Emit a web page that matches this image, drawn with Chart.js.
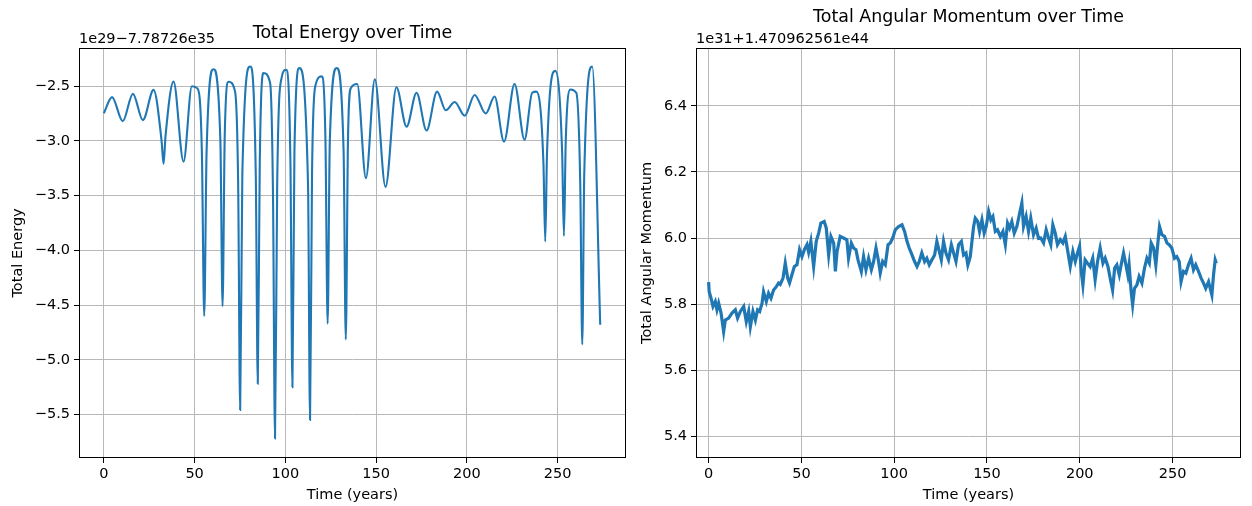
<!DOCTYPE html>
<html>
<head>
<meta charset="utf-8">
<script src="https://cdn.jsdelivr.net/npm/chart.js@4.4.1/dist/chart.umd.min.js"></script>
<style>
  body { margin: 0; background: #fff; }
  #wrap { position: relative; width: 1252px; height: 506px; }
  canvas { position: absolute; top: 0; }
</style>
</head>
<body>
<div id="wrap">
  <canvas id="energyChart" width="640" height="506" style="left:0"></canvas>
  <canvas id="momentumChart" width="620" height="506" style="left:632px"></canvas>
</div>
<script>
// ---- data ----
var xTicks = [0, 50, 100, 150, 200, 250];
var energyTicks = [-5.5, -5.0, -4.5, -4.0, -3.5, -3.0, -2.5];
var momentumTicks = [5.4, 5.6, 5.8, 6.0, 6.2, 6.4];

// total energy (offset 1e29 - 7.78726e35)
var energyTime = [0, 4.5, 10.4, 16.0, 21.5, 27.4, 31.8, 32.9, 34.0, 38.4, 43.9, 48.5, 51.5, 54.0, 55.3, 56.6,
  60.4, 64.2, 65.4, 66.6, 68.7, 72.3, 74.0, 75.1, 76.3, 80.6, 83.7, 84.8, 85.9, 87.9, 91.6, 93.2, 94.3, 95.5,
  98.0, 100.4, 102.8, 103.9, 105.0, 107.7, 112.5, 113.6, 114.7, 116.5, 120.0, 122.1, 123.3, 124.5, 128.3,
  132.1, 133.3, 134.5, 136.0, 139.6, 144.4, 149.3, 155.2, 161.2, 166.8, 172.3, 177.8, 183.6, 188.4, 193.3,
  198.8, 204.3, 210.4, 215.3, 220.5, 226.3, 231.8, 236.0, 238.3, 242.2, 243.2, 244.2, 248.7, 252.5, 253.5,
  254.5, 257.0, 260.3, 262.5, 263.6, 264.7, 269.1, 273.5];
var energyValues = [-2.747, -2.60, -2.82, -2.57, -2.81, -2.534, -3.0, -3.21, -2.95, -2.458, -3.19, -2.50, -2.52, -3.1, -4.60, -3.1,
  -2.345, -3.0, -4.51, -2.95, -2.46, -2.55, -3.4, -5.46, -3.3, -2.32, -3.3, -5.22, -3.2, -2.38, -2.47, -3.5, -5.72, -3.4,
  -2.42, -2.35, -3.2, -5.25, -3.1, -2.335, -3.4, -5.55, -3.3, -2.50, -2.41, -3.0, -4.67, -3.0, -2.335,
  -3.1, -4.815, -3.0, -2.52, -2.48, -3.34, -2.436, -3.42, -2.51, -2.87, -2.56, -2.905, -2.55, -2.72, -2.644,
  -2.77, -2.58, -2.75, -2.595, -3.007, -2.48, -2.99, -2.56, -2.55, -3.2, -3.92, -3.1, -2.36, -3.1, -3.87,
  -3.0, -2.53, -2.56, -3.4, -4.86, -3.3, -2.32, -4.68];

// total angular momentum (offset 1e31 + 1.470962561e44)
var momentumTime = [0, 0.3, 1.3, 2.35, 3.6, 4.5, 5.4, 6.7, 8.1, 9.0, 10.8, 12.6, 14.4, 15.6, 17.1, 18.9, 20.3, 21.6,
  22.5, 23.9, 25.2, 26.4, 27.5, 28.8, 29.6, 31.1, 32.3, 33.6, 35.0, 36.5, 37.7, 38.6, 40.1, 41.3, 42.6, 43.6, 44.9,
  46.2, 47.6, 49.0, 50.3, 51.6, 53.0, 53.9, 55.1, 56.6, 58.0, 59.3, 60.5, 62.3, 63.4, 64.7, 65.9, 67.4, 68.3, 69.2,
  70.9, 72.7, 74.5, 75.4, 76.9, 78.1, 79.4, 80.5, 82.3, 83.5, 84.8, 86.2, 87.7, 88.9, 90.2, 91.6, 92.5, 93.8, 95.2,
  96.7, 97.9, 99.2, 100.6, 102.4, 104.2, 105.6, 106.9, 108.1, 109.6, 111.0, 112.3, 113.5, 114.9, 116.4, 117.6,
  118.9, 120.3, 121.8, 123.0, 124.3, 125.4, 126.6, 127.9, 129.3, 130.8, 132.0, 133.3, 134.7, 136.2, 137.4, 138.7,
  139.7, 141.0, 142.8, 143.7, 145.0, 146.0, 147.3, 148.5, 149.6, 150.9, 152.1, 153.2, 154.5, 155.7, 157.2, 158.6,
  159.9, 161.1, 162.2, 163.4, 164.7, 166.1, 167.6, 168.8, 169.7, 171.1, 172.4, 173.6, 175.1, 176.5, 177.8, 179.0,
  180.5, 181.9, 183.2, 184.4, 185.5, 186.8, 188.0, 189.5, 190.9, 192.2, 193.4, 194.9, 196.3, 197.6, 198.8, 199.9,
  200.8, 201.7, 202.9, 204.2, 205.6, 207.0, 208.3, 209.6, 211.0, 212.5, 213.7, 215.2, 216.4, 217.7, 218.8, 220.0,
  221.3, 222.3, 223.6, 224.9, 225.9, 226.6, 227.7, 228.5, 229.5, 230.8, 232.0, 233.5, 234.9, 236.2, 237.5, 238.5,
  239.8, 241.0, 242.1, 243.0, 244.3, 245.7, 247.0, 248.2, 249.6, 251.1, 252.3, 253.6, 254.6, 255.9, 257.2, 258.6,
  260.0, 261.3, 262.5, 264.0, 265.4, 266.7, 267.9, 269.4, 270.3, 271.2, 272.1, 273.0, 273.6];
var momentumValues = [5.867, 5.838, 5.818, 5.793, 5.808, 5.783, 5.803, 5.773, 5.717, 5.752, 5.758, 5.773, 5.783, 5.758, 5.778, 5.793, 5.747, 5.778,
  5.732, 5.778, 5.752, 5.783, 5.778, 5.803, 5.838, 5.808, 5.833, 5.818, 5.843, 5.853, 5.864, 5.860, 5.879, 5.924, 5.879, 5.864, 5.889,
  5.914, 5.919, 5.965, 5.944, 5.965, 5.980, 5.957, 5.990, 5.914, 5.990, 6.015, 6.045, 6.050, 6.030, 5.949, 6.005, 5.985, 5.899, 5.959,
  6.005, 6.000, 5.995, 5.939, 5.985, 5.970, 5.965, 5.934, 5.899, 5.944, 5.904, 5.939, 5.904, 5.929, 5.970, 5.929, 5.894, 5.929, 5.919,
  5.980, 5.985, 6.000, 6.025, 6.035, 6.040, 6.020, 5.990, 5.970, 5.949, 5.929, 5.914, 5.929, 5.955, 5.929, 5.939,
  5.919, 5.934, 5.949, 5.990, 5.960, 5.934, 5.990, 5.955, 5.934, 5.980, 5.955, 5.929, 5.980, 5.990, 5.949, 5.955,
  5.919, 5.944, 6.035, 6.060, 6.050, 6.020, 6.055, 6.015, 6.035, 6.081, 6.055, 6.065, 6.020, 6.025, 6.005, 6.020,
  5.980, 6.045, 6.030, 6.050, 6.015, 6.035, 6.075, 6.106, 6.035, 6.065, 6.020, 6.060, 6.010, 6.030, 5.999, 6.000,
  5.985, 6.025, 6.000, 5.980, 6.040, 6.015, 5.980, 5.995, 5.985, 6.005, 5.965, 5.914, 5.959, 5.929, 5.955, 5.975,
  5.899, 5.858, 5.934, 5.924, 5.914, 5.939, 5.874, 5.929, 5.970, 5.924, 5.939, 5.914, 5.879, 5.843, 5.909, 5.919,
  5.889, 5.919, 5.955, 5.919, 5.889, 5.919, 5.838, 5.798, 5.848, 5.858, 5.884, 5.864, 5.909, 5.939, 5.924, 5.985,
  5.970, 5.919, 5.985, 6.035, 6.010, 6.005, 5.985, 5.980, 5.970, 5.939, 5.944, 5.929, 5.868, 5.899, 5.894, 5.919,
  5.939, 5.904, 5.919, 5.899, 5.879, 5.864, 5.848, 5.868, 5.848, 5.828, 5.889, 5.934, 5.924];

// ---- shared look ----
Chart.defaults.font.family = '"DejaVu Sans", sans-serif';
Chart.defaults.font.size = 14.5;
Chart.defaults.color = '#000';

function toPoints(xs, ys) {
  return xs.map(function (x, i) { return {x: x, y: ys[i]} });
}

function fmt(v, digits) {
  return v.toFixed(digits).replace('-', '\u2212');
}

// draws the four spines and the matplotlib-style offset text
var framePlugin = {
  id: 'frame',
  afterDraw: function (chart, args, opts) {
    var a = chart.chartArea, ctx = chart.ctx;
    ctx.save();
    ctx.strokeStyle = '#000';
    ctx.lineWidth = 1;
    ctx.strokeRect(Math.round(a.left) + 0.5, Math.round(a.top) + 0.5,
      Math.round(a.right - a.left) - 1, Math.round(a.bottom - a.top) - 1);
    ctx.font = '14.5px "DejaVu Sans"';
    ctx.fillStyle = '#000';
    ctx.textBaseline = 'alphabetic';
    ctx.fillText(opts.offsetText, a.left, 43);
    ctx.restore();
  }
};

function makeChart(id, cfg) {
  return new Chart(document.getElementById(id).getContext('2d'), {
    type: 'line',
    data: {
      datasets: [{
        data: toPoints(cfg.xs, cfg.ys),
        borderColor: '#1f77b4',
        borderWidth: cfg.lineWidth,
        pointRadius: 0,
        fill: false,
        cubicInterpolationMode: cfg.smooth ? 'monotone' : 'default',
        tension: 0
      }]
    },
    options: {
      responsive: false,
      animation: false,
      layout: { padding: { left: 0, right: cfg.padRight, top: 0, bottom: 0 } },
      plugins: {
        legend: { display: false },
        tooltip: { enabled: false },
        title: {
          display: true,
          text: cfg.title,
          fullSize: false,
          font: { size: 17.4, weight: 'normal', lineHeight: 1.2 },
          color: '#000',
          padding: cfg.titlePad
        },
        frame: { offsetText: cfg.offsetText }
      },
      scales: {
        x: {
          type: 'linear',
          min: cfg.xMin,
          max: cfg.xMax,
          afterBuildTicks: function (scale) {
            scale.ticks = xTicks.map(function (v) { return {value: v} });
          },
          afterFit: function (scale) { scale.height = 48; },
          ticks: { padding: 3, maxRotation: 0, callback: function (v) { return fmt(v, 0) } },
          grid: { color: '#b8b8b8', lineWidth: 1, tickColor: '#000', tickLength: 5, tickWidth: 1 },
          border: { display: false },
          title: { display: true, text: 'Time (years)', padding: { top: 0, bottom: 2 } }
        },
        y: {
          type: 'linear',
          min: cfg.yMin,
          max: cfg.yMax,
          afterBuildTicks: function (scale) {
            scale.ticks = cfg.yTicks.map(function (v) { return {value: v} });
          },
          afterFit: function (scale) { scale.width = cfg.yWidth; },
          ticks: { padding: 4, callback: function (v) { return fmt(v, 1) } },
          grid: { color: '#b8b8b8', lineWidth: 1, tickColor: '#000', tickLength: 5, tickWidth: 1 },
          border: { display: false },
          title: { display: true, text: cfg.yLabel, padding: { top: cfg.yTitlePad, bottom: 0 } }
        }
      }
    },
    plugins: [framePlugin]
  });
}

var energyChart = makeChart('energyChart', {
  xs: energyTime, ys: energyValues, smooth: true, lineWidth: 2.1,
  title: 'Total Energy over Time', titlePad: { top: 23, bottom: 4 },
  offsetText: '1e29\u22127.78726e35',
  xMin: -13.7, xMax: 287.7, yMin: -5.898, yMax: -2.15, yTicks: energyTicks,
  yWidth: 79, padRight: 14, yLabel: 'Total Energy', yTitlePad: 9.3
});

var momentumChart = makeChart('momentumChart', {
  xs: momentumTime, ys: momentumValues, smooth: false, lineWidth: 3.2,
  title: 'Total Angular Momentum over Time', titlePad: { top: 7, bottom: 20 },
  offsetText: '1e31+1.470962561e44',
  xMin: -6.8, xMax: 286.9, yMin: 5.335, yMax: 6.575, yTicks: momentumTicks,
  yWidth: 64, padRight: 11, yLabel: 'Total Angular Momentum', yTitlePad: 6.3
});
</script>
</body>
</html>
